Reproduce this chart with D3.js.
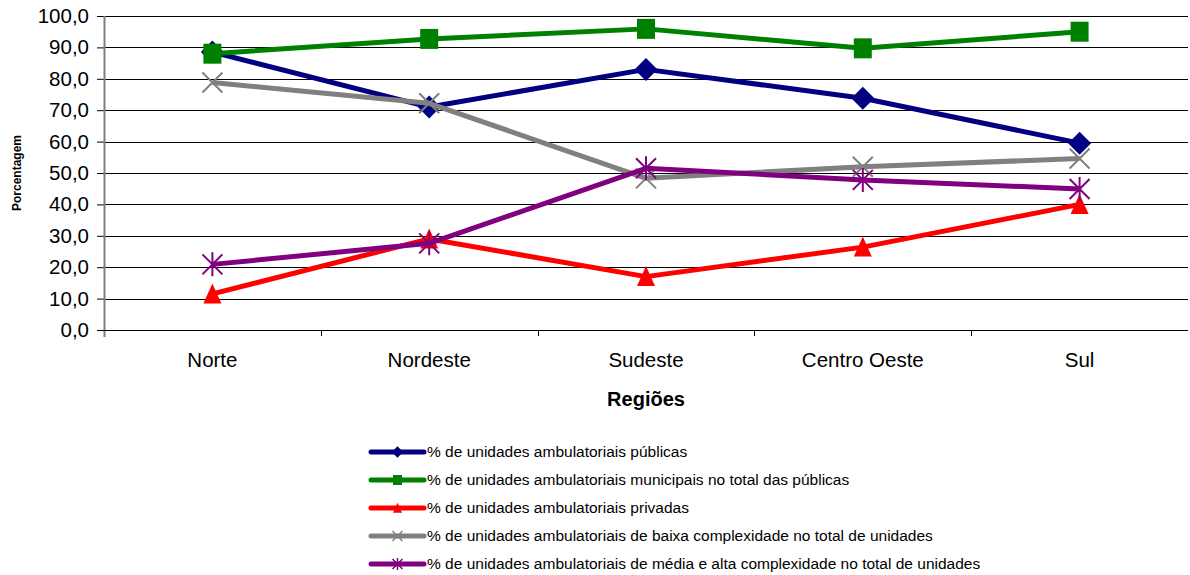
<!DOCTYPE html>
<html>
<head>
<meta charset="utf-8">
<script src="https://cdn.jsdelivr.net/npm/d3@7"></script>
<style>
  html, body { margin: 0; padding: 0; background: #fff; }
  svg { display: block; font-family: "Liberation Sans", Arial, sans-serif; }
</style>
</head>
<body>
<svg id="chart" width="1190" height="575"></svg>
<script>
// Regions on the x axis
const regioes = ["Norte", "Nordeste", "Sudeste", "Centro Oeste", "Sul"];

// Series labels (legend text)
const nomes = [
  "% de unidades ambulatoriais públicas",
  "% de unidades ambulatoriais municipais no total das públicas",
  "% de unidades ambulatoriais privadas",
  "% de unidades ambulatoriais de baixa complexidade no total de unidades",
  "% de unidades ambulatoriais de média e alta complexidade no total de unidades"
];

// Series values per region (%)
const publicas      = [88.5, 71.0, 83.0, 73.8, 59.5];
const municipais    = [88.0, 92.7, 95.9, 89.7, 95.0];
const privadas      = [11.5, 29.0, 17.0, 26.4, 40.0];
const baixaComplex  = [78.8, 72.2, 48.3, 52.0, 54.6];
const mediaAlta     = [20.9, 27.6, 51.5, 47.8, 44.9];

// Y axis ticks
const yTicks = [0, 10, 20, 30, 40, 50, 60, 70, 80, 90, 100];

const cores = ["#000080", "#008000", "#FF0000", "#808080", "#800080"];
const simbolos = ["diamond", "square", "triangle", "x", "asterisk"];
const valores = [publicas, municipais, privadas, baixaComplex, mediaAlta];

const svg = d3.select("#chart");
const plot = { left: 104, right: 1188, top: 16, bottom: 330 };

const x = d3.scaleBand().domain(regioes).range([plot.left, plot.right]).padding(0);
const y = d3.scaleLinear().domain([0, 100]).range([plot.bottom, plot.top]);
const fmt = v => d3.format(".1f")(v).replace(".", ",");

// Horizontal gridlines
svg.append("g")
  .selectAll("line")
  .data(yTicks.filter(t => t > 0))
  .join("line")
  .attr("x1", plot.left).attr("x2", plot.right)
  .attr("y1", d => Math.round(y(d)) + 0.5).attr("y2", d => Math.round(y(d)) + 0.5)
  .attr("stroke", "#000").attr("stroke-width", 1);

// Y axis
const yAxis = svg.append("g")
  .attr("transform", `translate(${plot.left},0)`)
  .call(d3.axisLeft(y).tickValues(yTicks).tickFormat(fmt).tickSize(7).tickPadding(8));
yAxis.select(".domain").remove();
yAxis.selectAll(".tick line").attr("stroke", "#000");
yAxis.selectAll(".tick text")
  .attr("font-size", 20.5).attr("fill", "#000")
  .attr("font-family", "'Liberation Sans', Arial, sans-serif");
svg.append("line")
  .attr("x1", plot.left + 0.5).attr("x2", plot.left + 0.5)
  .attr("y1", plot.top).attr("y2", plot.bottom + 7)
  .attr("stroke", "#808080").attr("stroke-width", 2);

// X axis (ticks between categories)
const xAxis = svg.append("g")
  .attr("transform", `translate(0,${Math.round(plot.bottom) + 0.5})`)
  .call(d3.axisBottom(x).tickSize(0).tickPadding(22));
xAxis.select(".domain").remove();
xAxis.selectAll(".tick text")
  .attr("font-size", 20.5).attr("fill", "#000")
  .attr("font-family", "'Liberation Sans', Arial, sans-serif");
svg.append("line")
  .attr("x1", plot.left - 7).attr("x2", plot.right)
  .attr("y1", Math.round(plot.bottom) + 0.5).attr("y2", Math.round(plot.bottom) + 0.5)
  .attr("stroke", "#000");
svg.append("g")
  .selectAll("line")
  .data(regioes.slice(1))
  .join("line")
  .attr("x1", d => Math.round(x(d)) + 0.5).attr("x2", d => Math.round(x(d)) + 0.5)
  .attr("y1", plot.bottom).attr("y2", plot.bottom + 6)
  .attr("stroke", "#000");

// Axis titles
svg.append("text")
  .attr("x", (plot.left + plot.right) / 2).attr("y", 406)
  .attr("text-anchor", "middle").attr("font-weight", "bold").attr("font-size", 20)
  .text("Regiões");
svg.append("text")
  .attr("transform", `translate(21,${(plot.top + plot.bottom) / 2}) rotate(-90)`)
  .attr("text-anchor", "middle").attr("font-weight", "bold").attr("font-size", 12)
  .text("Porcentagem");

// Marker path builder
function marcador(tipo, s) {
  const h = s / 2;
  switch (tipo) {
    case "diamond": return `M0,${-h * 1.15}L${h * 1.15},0L0,${h * 1.15}L${-h * 1.15},0Z`;
    case "square": return `M${-h * 0.9},${-h}H${h * 0.9}V${h}H${-h * 0.9}Z`;
    case "triangle": return `M0,${-h * 1.05}L${h * 0.9},${h * 0.95}L${-h * 0.9},${h * 0.95}Z`;
    case "x": return `M${-h},${-h}L${h},${h}M${h},${-h}L${-h},${h}`;
    case "asterisk": return `M${-h},${-h}L${h},${h}M${h},${-h}L${-h},${h}M0,${-h * 1.2}V${h * 1.2}`;
  }
}
const preenchido = t => t === "diamond" || t === "square" || t === "triangle";

// Series lines and markers
const line = d3.line().x((d, i) => x(regioes[i]) + x.bandwidth() / 2).y(d => y(d));
valores.forEach((serie, k) => {
  const g = svg.append("g");
  g.append("path")
    .datum(serie)
    .attr("d", line)
    .attr("fill", "none")
    .attr("stroke", cores[k]).attr("stroke-width", 5)
    .attr("stroke-linejoin", "round");
  g.selectAll("path.m")
    .data(serie)
    .join("path")
    .attr("class", "m")
    .attr("transform", (d, i) => `translate(${x(regioes[i]) + x.bandwidth() / 2},${y(d)})`)
    .attr("d", marcador(simbolos[k], 20))
    .attr("fill", preenchido(simbolos[k]) ? cores[k] : "none")
    .attr("stroke", cores[k])
    .attr("stroke-width", preenchido(simbolos[k]) ? 0 : 2);
});

// Legend
const leg = svg.append("g");
nomes.forEach((nome, k) => {
  const yy = 452 + k * 28;
  leg.append("line")
    .attr("x1", 371).attr("x2", 424).attr("y1", yy).attr("y2", yy)
    .attr("stroke", cores[k]).attr("stroke-width", 5).attr("stroke-linecap", "round");
  leg.append("path")
    .attr("transform", `translate(397.5,${yy})`)
    .attr("d", marcador(simbolos[k], 10))
    .attr("fill", preenchido(simbolos[k]) ? cores[k] : "none")
    .attr("stroke", cores[k])
    .attr("stroke-width", preenchido(simbolos[k]) ? 0 : 1.5);
  leg.append("text")
    .attr("x", 427).attr("y", yy + 5)
    .attr("font-size", 15.5).attr("fill", "#000")
    .text(nome);
});
</script>
</body>
</html>
